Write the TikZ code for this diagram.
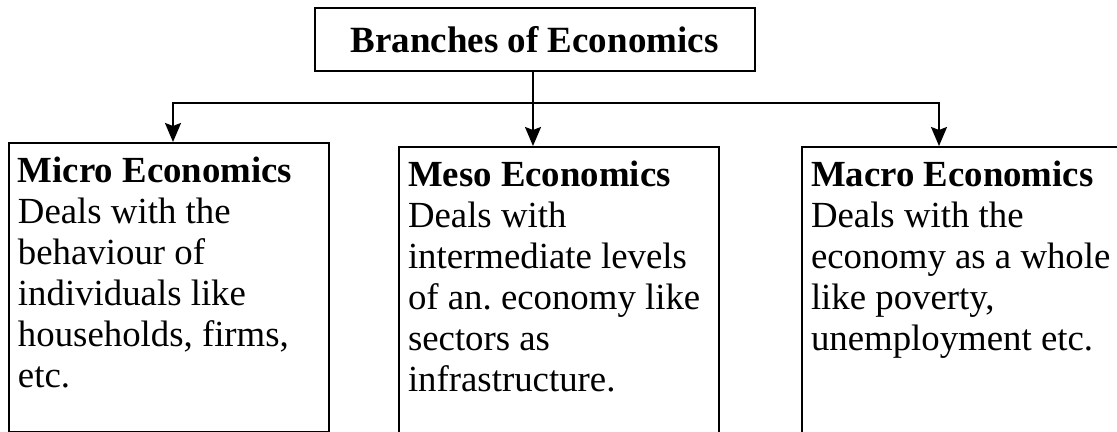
\documentclass[tikz,border=0pt]{standalone}
\usepackage{fontspec}
\setmainfont{Liberation Serif}
\usetikzlibrary{arrows.meta,positioning}
\frenchspacing

\begin{document}
\begin{tikzpicture}[x=.5pt,y=-.5pt,
	branch/.style={draw,line width=1pt,anchor=north west,inner xsep=4.5pt,inner ysep=5.5pt,font=\fontsize{18.4}{20.5}\selectfont},
	arr/.style={line width=1pt,-{Stealth[length=9.5pt,width=8pt,inset=1.5pt]}}]
	\clip (0,0) rectangle (1117,432);
	\node[draw,line width=1pt,minimum width=220pt,minimum height=31.5pt,font=\fontsize{18.5}{20.5}\selectfont\bfseries] (title) at (534.5,39.5) {Branches of Economics};
	\node[branch] (micro) at (8,142) {\parbox[t][133.5pt][t]{151pt}{\raggedright\strut\textbf{Micro Economics}\\Deals with the\\behaviour of\\individuals like\\households, firms,\\etc.}};
	\node[branch] (mid) at (398,146) {\parbox[t][150pt][t]{151pt}{\raggedright\strut\textbf{Meso Economics}\\Deals with\\intermediate levels\\of an. economy like\\sectors as\\infrastructure.}};
	\node[branch] (macro) at (801,146) {\parbox[t][150pt][t]{161pt}{\raggedright\strut\textbf{Macro Economics}\\Deals with the\\economy as a whole\\like poverty,\\unemployment etc.}};
	\coordinate (bus) at (533,103);
	\path (micro.north west) ++(165,0) coordinate (microin);
	\path (macro.north west) ++(138,0) coordinate (macroin);
	\draw[arr] (title.south -| bus) -- (bus |- mid.north);
	\draw[arr] (bus) -| (microin);
	\draw[arr] (bus) -| (macroin);
\end{tikzpicture}
\end{document}
